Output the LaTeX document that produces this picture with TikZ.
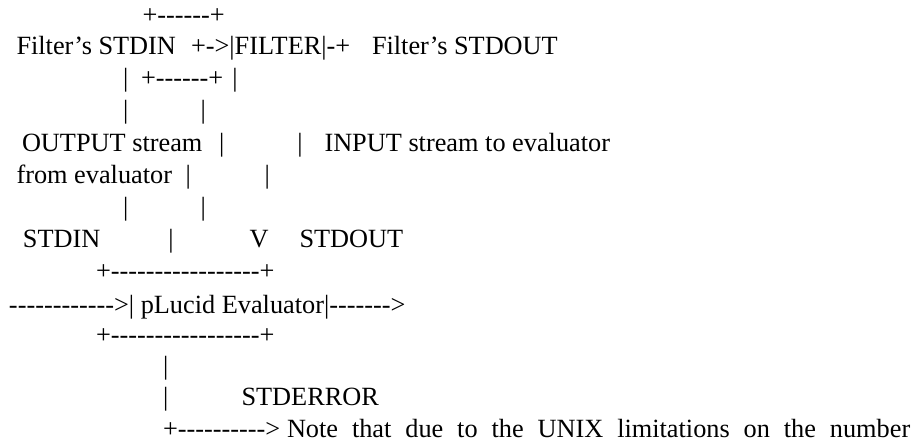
\documentclass[tikz,border=0pt]{standalone}
\usepackage{fontspec}
\newfontfamily\asc{Liberation Serif}
\begin{document}
\begin{tikzpicture}[x=1pt,y=-1pt,
  t/.style={anchor=base west, inner sep=0pt, outer sep=0pt, font=\asc\fontsize{26.3}{30}\selectfont}]
\useasboundingbox (0,0) rectangle (914,442);
% line 1
\node[t] (l1a) at (142.5,23) {+------+};
% line 2
\node[t] (l2a) at (16.5,54) {Filter’s STDIN};
\node[t] (l2b) at (191,54) {+->|FILTER|-+};
\node[t] (l2c) at (372,54) {Filter’s STDOUT};
% line 3
\node[t] (l3a) at (123,86) {|};
\node[t] (l3b) at (141,86) {+------+};
\node[t] (l3c) at (232.4,86) {|};
% line 4
\node[t] (l4a) at (123,118) {|};
\node[t] (l4b) at (200.7,118) {|};
% line 5
\node[t] (l5a) at (22,151) {OUTPUT stream};
\node[t] (l5b) at (219,151) {|};
\node[t] (l5c) at (297.4,151) {|};
\node[t] (l5d) at (324.5,151) {INPUT stream to evaluator};
% line 6
\node[t] (l6a) at (16.5,183) {from evaluator};
\node[t] (l6b) at (185.7,183) {|};
\node[t] (l6c) at (264.7,183) {|};
% line 7
\node[t] (l7a) at (123,215) {|};
\node[t] (l7b) at (200.7,215) {|};
% line 8
\node[t] (l8a) at (23,247) {STDIN};
\node[t] (l8b) at (168.4,247) {|};
\node[t] (l8c) at (249.5,247) {V};
\node[t] (l8d) at (299.5,247) {STDOUT};
% line 9
\node[t] (l9a) at (96,279) {+-----------------+};
% line 10
\node[t] (l10a) at (9,313) {------------>| pLucid Evaluator|------->};
% line 11
\node[t] (l11a) at (96,343) {+-----------------+};
% line 12
\node[t] (l12a) at (163,374) {|};
% line 13
\node[t] (l13a) at (163,405) {|};
\node[t] (l13b) at (241.5,405) {STDERROR};
% line 14 (justified line: stretched word spaces)
\node[t] (l14a) at (163,437) {+---------->};
\node[t] (l14b) at (287,437) {\spaceskip=13.9pt\relax Note that due to the UNIX limitations on the number};
\end{tikzpicture}
\end{document}
